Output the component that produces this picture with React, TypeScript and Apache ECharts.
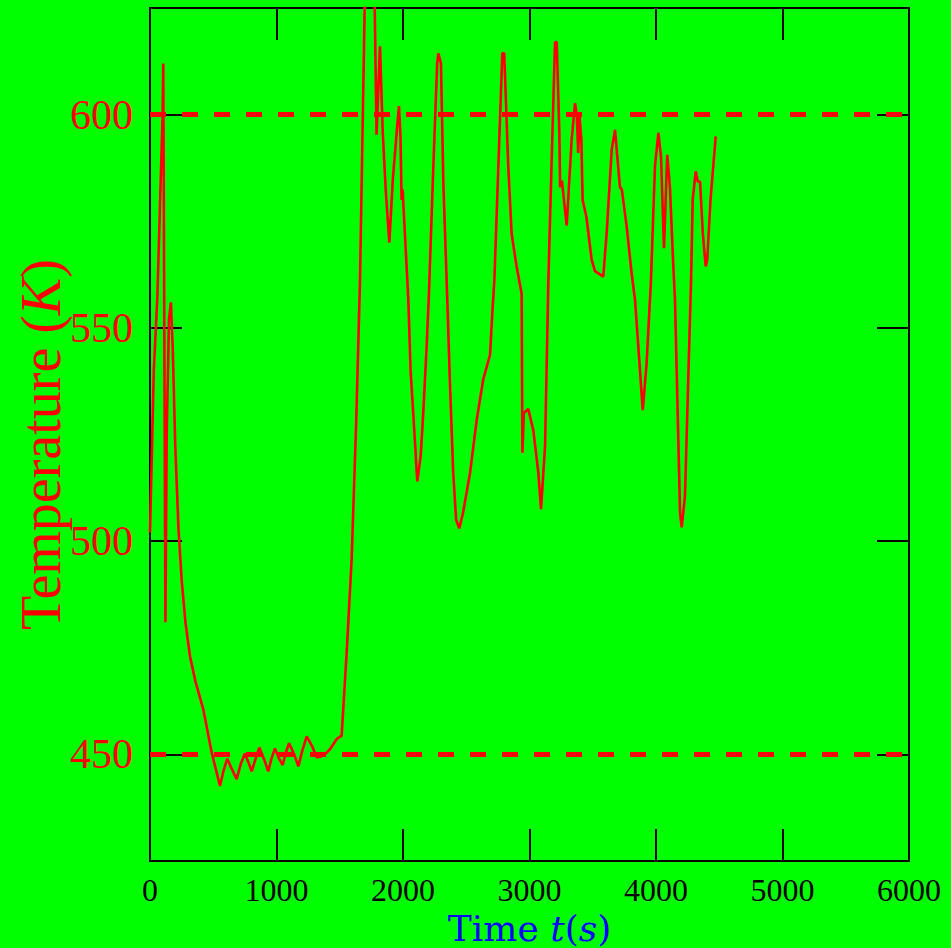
import React, { useEffect, useRef } from "react";
import * as echarts from "echarts";

const times = [
  0, 30, 58, 80, 100, 105, 122, 132, 150, 165, 180, 200, 225, 250, 280, 316, 360, 421, 488, 553,
  580, 611, 640, 685, 720, 751, 780, 804, 835, 864, 900, 935, 960, 988, 1020, 1049, 1075, 1099,
  1140, 1173, 1205, 1239, 1280, 1318, 1350, 1383, 1423, 1476, 1515, 1555, 1594, 1630, 1660, 1697,
  1740, 1791, 1818, 1840, 1865, 1892, 1920, 1945, 1968, 1980, 1989, 1997, 2042, 2060, 2081, 2113,
  2140, 2160, 2187, 2205, 2240, 2270, 2280, 2300, 2319, 2350, 2370, 2397, 2420, 2445, 2475, 2530,
  2583, 2635, 2688, 2706, 2722, 2754, 2785, 2800, 2832, 2859, 2898, 2938, 2944, 2955, 2990, 3030,
  3070, 3091, 3123, 3149, 3176, 3202, 3215, 3236, 3242, 3256, 3294, 3333, 3360, 3374, 3385, 3396,
  3410, 3420, 3450, 3491, 3518, 3583, 3610, 3650, 3676, 3694, 3715, 3730, 3768, 3807, 3834, 3860,
  3895, 3926, 3960, 3992, 4019, 4040, 4063, 4089, 4110, 4137, 4150, 4165, 4190, 4203, 4229, 4255,
  4277, 4290, 4314, 4330, 4348, 4370, 4393, 4405, 4431, 4472,
];

const temps = [
  502, 540, 557, 580, 600, 612, 481, 525, 552, 556, 545, 522, 503, 491, 481, 473, 467, 460.6, 450.4, 442.6,
  446, 449, 447, 444.2, 448, 450.2, 448, 446, 449, 451.6, 449, 446, 449, 451.4, 449, 447.5, 450.5, 452.6,
  450, 447.2, 451, 454.2, 452, 449.3, 449.5, 450, 451.2, 453.6, 454.4, 474, 495.7, 528, 561, 625,
  700, 595.3, 616, 595.7, 581.6, 570, 585, 594, 602, 595, 580, 582.4, 556.6, 540, 530, 514,
  520, 530, 545.7, 558, 588, 612, 614.4, 612, 584, 556.6, 538, 516, 505, 503, 506.7, 516,
  528.5, 538, 543.7, 553.5, 561, 588, 614.4, 614.4, 588, 572, 564.4, 558, 520.7, 530, 531, 526,
  516, 507.5, 522.3, 561, 590, 617, 617, 595.7, 583, 584.5, 574, 594, 602.7, 600, 591, 599.5,
  594, 580, 576, 566, 563.3, 562, 572.2, 591.8, 596.4, 590.2, 583, 582.4, 573.8, 562.9, 556.6, 545.7,
  530.7, 541.8, 561, 588, 595.7, 590, 568.7, 590.6, 583, 564.4, 556.6, 538, 506.7, 503.2, 510.6, 538,
  561, 580, 586.7, 584.3, 584.3, 572.2, 564.4, 566, 580, 594.9,
];

const xTicks = [0, 1000, 2000, 3000, 4000, 5000, 6000];
const yTicks = [450, 500, 550, 600];
const refLines = [450, 600];

export default function App() {
  const ref = useRef<HTMLDivElement>(null);
  useEffect(() => {
    if (!ref.current) return;
    const chart = echarts.init(ref.current, null, { renderer: "svg" });
    const data = times.map((t, i) => [t, temps[i]]);
    const black = "#000000";
    const commonX = {
      type: "value",
      min: xTicks[0],
      max: xTicks[xTicks.length - 1],
      interval: 1000,
      splitLine: { show: false },
      axisLine: { show: true, onZero: false, lineStyle: { color: black, width: 2 } },
      axisTick: { show: true, inside: true, length: 32, lineStyle: { color: black, width: 2 } },
    };
    const commonY = {
      type: "value",
      min: 425,
      max: 625,
      splitLine: { show: false },
      axisLine: { show: true, onZero: false, lineStyle: { color: black, width: 2 } },
      axisTick: {
        show: true,
        inside: true,
        length: 32,
        customValues: yTicks,
        lineStyle: { color: black, width: 2 },
      },
    };
    chart.setOption({
      animation: false,
      backgroundColor: "#00ff00",
      grid: {
        left: 150,
        right: 42,
        top: 8,
        bottom: 87,
        containLabel: false,
        outerBoundsMode: "none",
      },
      xAxis: [
        {
          ...commonX,
          position: "bottom",
          axisLabel: {
            show: true,
            color: black,
            fontSize: 32,
            fontFamily: "Liberation Serif",
            margin: 13,
            showMinLabel: true,
            showMaxLabel: true,
            hideOverlap: false,
            formatter: (v: number) => String(v),
          },
          name: "Time {i|t}({i|s})",
          nameLocation: "middle",
          nameGap: 67,
          nameMoveOverlap: false,
          nameTextStyle: {
            color: "#0000ff",
            fontSize: 36,
            fontFamily: "DejaVu Serif",
            align: "center",
            verticalAlign: "middle",
            rich: {
              i: { fontStyle: "italic", color: "#0000ff", fontSize: 36, fontFamily: "DejaVu Serif" },
            },
          },
        },
        {
          ...commonX,
          position: "top",
          axisLabel: { show: false },
        },
      ],
      yAxis: [
        {
          ...commonY,
          position: "left",
          axisLabel: {
            show: true,
            customValues: yTicks,
            color: "#ff0000",
            fontSize: 42,
            fontFamily: "Liberation Serif",
            margin: 17,
            formatter: (v: number) => String(v),
          },
          name: "Temperature ({i|K})",
          nameLocation: "middle",
          nameRotate: 90,
          nameGap: 109,
          nameMoveOverlap: false,
          nameTextStyle: {
            color: "#ff0000",
            fontSize: 56,
            fontFamily: "Liberation Serif",
            align: "center",
            verticalAlign: "middle",
            padding: [0, 20, 0, 0],
            rich: {
              i: { fontStyle: "italic", color: "#ff0000", fontSize: 56, fontFamily: "Liberation Serif" },
            },
          },
        },
        {
          ...commonY,
          position: "right",
          axisLabel: { show: false },
        },
      ],
      series: [
        {
          type: "line",
          xAxisIndex: 0,
          yAxisIndex: 0,
          data,
          showSymbol: false,
          symbol: "none",
          clip: true,
          lineStyle: { color: "#ff0000", width: 2.6 },
          itemStyle: { color: "#ff0000" },
          markLine: {
            silent: true,
            symbol: ["none", "none"],
            label: { show: false },
            lineStyle: { color: "#ff0000", width: 5, type: [16, 16] },
            emphasis: { disabled: true },
            data: refLines.map((v) => ({ yAxis: v })),
          },
        },
      ],
    });
    return () => chart.dispose();
  }, []);
  return (
    <div
      ref={ref}
      style={{ position: "absolute", left: 0, top: 0, width: 951, height: 948, background: "#00ff00" }}
    />
  );
}
